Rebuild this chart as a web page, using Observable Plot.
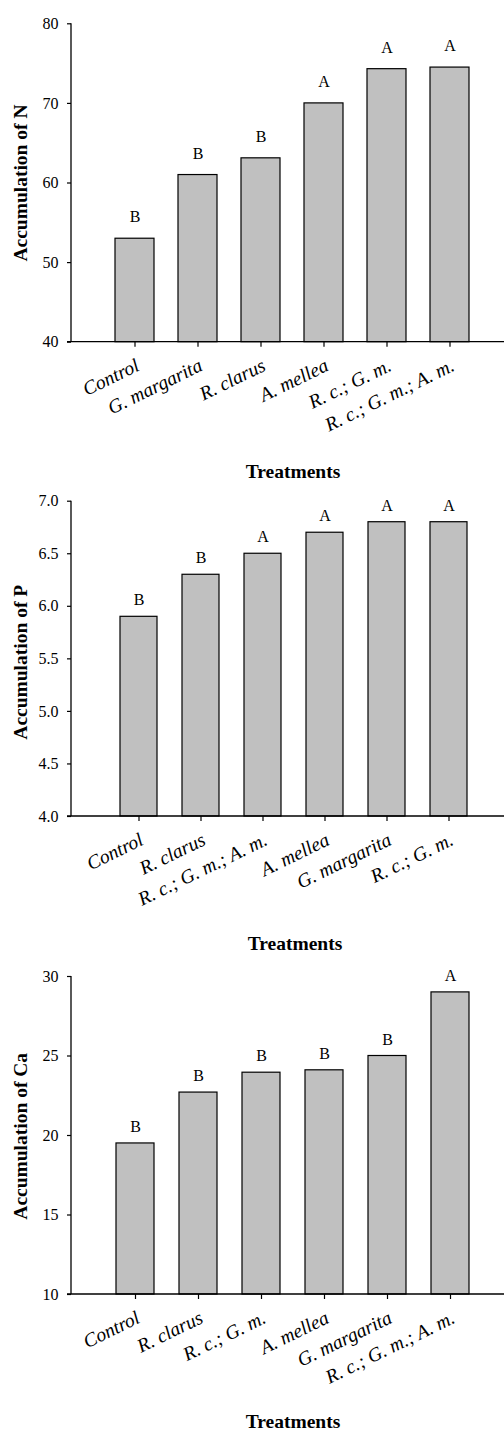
<!DOCTYPE html>
<html><head><meta charset="utf-8">
<script src="https://cdn.jsdelivr.net/npm/d3@7"></script>
<script src="https://cdn.jsdelivr.net/npm/@observablehq/plot@0.6"></script>
<style>
body{margin:0;background:#fff;}
#c{width:504px;}
#c svg{display:block;}
</style></head><body><div id="c"></div>
<script>
// ---- Data ----
const nCats = ["Control", "G. margarita", "R. clarus", "A. mellea", "R. c.; G. m.", "R. c.; G. m.; A. m."];
const nValues = [53, 61, 63.1, 70, 74.3, 74.5];
const nLetters = ["B", "B", "B", "A", "A", "A"];
const nTicks = [40, 50, 60, 70, 80];

const pCats = ["Control", "R. clarus", "R. c.; G. m.; A. m.", "A. mellea", "G. margarita", "R. c.; G. m."];
const pValues = [5.9, 6.3, 6.5, 6.7, 6.8, 6.8];
const pLetters = ["B", "B", "A", "A", "A", "A"];
const pTicks = [4.0, 4.5, 5.0, 5.5, 6.0, 6.5, 7.0];

const caCats = ["Control", "R. clarus", "R. c.; G. m.", "A. mellea", "G. margarita", "R. c.; G. m.; A. m."];
const caValues = [19.5, 22.7, 23.95, 24.1, 25, 29];
const caLetters = ["B", "B", "B", "B", "B", "A"];
const caTicks = [10, 15, 20, 25, 30];

const xTitle = "Treatments";

const NS = "http://www.w3.org/2000/svg";
const FONT = "'Liberation Serif', 'Times New Roman', Times, serif";

function panel(o) {
  const data = o.cats.map((c, i) => ({cat: c, v: o.values[i], letter: o.letters[i]}));
  const y0 = o.ticks[0], y1 = o.ticks[o.ticks.length - 1];
  const axisLines = (index, scales, values, dims) => {
    const g = document.createElementNS(NS, "g");
    g.setAttribute("stroke", "#000");
    g.setAttribute("stroke-width", "1.3");
    const a = document.createElementNS(NS, "line");
    a.setAttribute("x1", dims.marginLeft); a.setAttribute("x2", dims.marginLeft);
    a.setAttribute("y1", scales.y(y1)); a.setAttribute("y2", scales.y(y0));
    const b = document.createElementNS(NS, "line");
    b.setAttribute("x1", dims.marginLeft - 4); b.setAttribute("x2", dims.width - dims.marginRight);
    b.setAttribute("y1", scales.y(y0)); b.setAttribute("y2", scales.y(y0));
    g.appendChild(a); g.appendChild(b);
    return g;
  };
  return Plot.plot({
    width: 504, height: o.height,
    marginLeft: 71, marginRight: 0, marginTop: o.mt, marginBottom: o.mb,
    style: {fontFamily: FONT, fontSize: "16px", color: "#000", background: "#fff", overflow: "visible"},
    x: {domain: o.cats, range: o.xr, paddingInner: o.pad, paddingOuter: o.pad / 2, align: 0.5},
    y: {domain: [y0, y1]},
    marks: [
      Plot.barY(data, {x: "cat", y1: y0, y2: "v", fill: "#c0c0c0", stroke: "#000", strokeWidth: 1.2}),
      Plot.text(data, {x: "cat", y: "v", text: "letter", dy: -o.letterDy, lineAnchor: "middle", fontSize: 16}),
      Plot.axisY({ticks: o.ticks, tickSize: 4, tickPadding: 9, tickFormat: o.fmt, label: null, fontSize: 16, strokeWidth: 1.2}),
      Plot.axisX({tickSize: 5, tickFormat: () => "", label: null, strokeWidth: 1.2}),
      Plot.text(o.cats, {x: d => d, text: d => d, frameAnchor: "bottom", dx: 3, dy: 22, rotate: -26,
        textAnchor: "end", lineAnchor: "middle", fontSize: 19.5, fontStyle: "italic"}),
      axisLines,
      Plot.text([o.yLabel], {text: d => d, frameAnchor: "left", dx: -51, dy: o.yLabelDy, rotate: -90,
        fontWeight: "bold", fontSize: 19.5, lineAnchor: "middle", textAnchor: "middle"}),
      Plot.text([xTitle], {text: d => d, frameAnchor: "bottom", dx: o.xLabelDx, dy: o.xLabelDy,
        fontWeight: "bold", fontSize: 19.5, lineAnchor: "middle", textAnchor: "middle"})
    ]
  });
}

const c = document.getElementById("c");
c.appendChild(panel({cats: nCats, values: nValues, letters: nLetters, ticks: nTicks, fmt: d => String(d),
  yLabel: "Accumulation of N", height: 480, mt: 23.3, mb: 138.3, xr: [102.7, 481.6], pad: 0.387,
  letterDy: 21.5, yLabelDy: 0, xLabelDx: 5, xLabelDy: 129.3}));
c.appendChild(panel({cats: pCats, values: pValues, letters: pLetters, ticks: pTicks, fmt: d3.format(".1f"),
  yLabel: "Accumulation of P", height: 480, mt: 20.7, mb: 144, xr: [106, 482.1], pad: 0.4,
  letterDy: 16.5, yLabelDy: 3.4, xLabelDx: 7, xLabelDy: 127.3}));
c.appendChild(panel({cats: caCats, values: caValues, letters: caLetters, ticks: caTicks, fmt: d => String(d),
  yLabel: "Accumulation of Ca", height: 470, mt: 16, mb: 136, xr: [102.7, 481.9], pad: 0.39,
  letterDy: 16.5, yLabelDy: 0.8, xLabelDx: 5, xLabelDy: 127.5}));
</script>
</body></html>
